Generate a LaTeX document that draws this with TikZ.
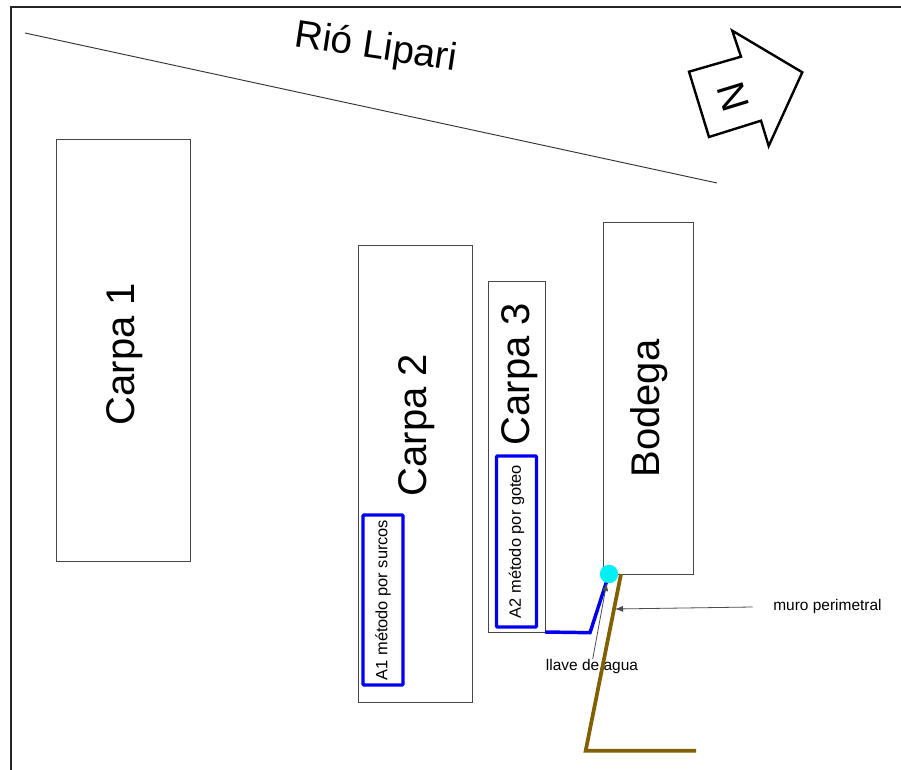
\documentclass[tikz,border=0pt]{standalone}
\usepackage{fontspec}
\setmainfont{Liberation Sans}
\usetikzlibrary{arrows.meta,positioning}
\definecolor{pipeBlue}{RGB}{0,0,240}
\definecolor{wallBrown}{RGB}{128,96,0}
\definecolor{valveCyan}{RGB}{0,240,245}
\definecolor{boxLine}{RGB}{70,70,70}
\tikzset{
    every node/.append style={align=center,inner sep=0pt,outer sep=0pt},
    box/.style={rectangle,draw=boxLine,line width=0.6pt},
    area/.style={rectangle,draw=pipeBlue,line width=2.4pt,rounded corners=0.6pt,rotate=90,
        minimum width=#1,minimum height=30pt,font=\fontsize{12.3pt}{14pt}\selectfont},
    big/.style={font=\fontsize{30pt}{34pt}\selectfont,rotate=90},
    note/.style={font=\fontsize{11.6pt}{14pt}\selectfont},
    arr/.style={-{Latex[length=6pt,width=4.5pt]},line width=0.6pt,draw=black!70},
    pipe/.style={draw=pipeBlue,line width=2.6pt},
    wall/.style={draw=wallBrown,line width=2.8pt}
}
\begin{document}
\begin{tikzpicture}[x=0.75pt,y=-0.75pt]
    \useasboundingbox (0,0) rectangle (901,770);
    \fill[white] (0,0) rectangle (901,770);
    \draw[line width=1.6pt,draw=black!85] (11,770) -- (11,7) -- (901,7);

    \coordinate (rioStart) at (25,33);
    \coordinate (rioEnd)   at (717,183);
    \draw[line width=0.7pt,draw=black!80] (rioStart) -- (rioEnd);
    \node[font=\fontsize{29pt}{33pt}\selectfont,rotate=-8.5] (rio) at (376,48.5) {Rió Lipari};

    \draw[line width=1.8pt,line join=miter] (689,71.7) -- (741,56.7) -- (732.3,30.7) -- (802.3,72.3)
        -- (768.7,146) -- (761,120.7) -- (709,137) -- cycle;
    \node[font=\fontsize{29pt}{32pt}\selectfont,rotate=-73] (north) at (733.5,96.5) {N};

    \node[box,minimum width=100.5pt,minimum height=316.5pt] (carpaA) at (123,350)     {};
    \node[box,minimum width=85.5pt,minimum height=342.75pt] (carpaB) at (415,473.5)   {};
    \node[box,minimum width=42.75pt,minimum height=263.25pt] (carpaC) at (516.5,456.5) {};
    \node[box,minimum width=67.5pt,minimum height=264pt]    (bodega) at (648,398)     {};

    \node[big] (carpaAtxt)  at (125,354) {Carpa 1};
    \node[big] (carpaBtxt)  at (417,425) {Carpa 2};
    \node[big] (carpaCtxt)  at (520,374) {Carpa 3};
    \node[big] (bodegaTxt)  at (649,408.5) {Bodega};

    \node[area=127.5pt] (surcos) at (383,600)     {A1 método por surcos};
    \node[area=128.25pt] (goteo) at (516.5,541.5) {A2 método por goteo};

    \node[note] (llaveTxt) at (592,667) {llave de agua};
    \node[note] (muroTxt)  at (827.5,606.5) {muro perimetral};

    \coordinate (wallTop)  at (621,574);
    \coordinate (wallBend) at (585.7,750.7);
    \coordinate (wallEnd)  at (696,750.7);
    \coordinate (wallMark) at (615,609);
    \coordinate (pipeBend) at (590,632.7);
    \coordinate (muroFrom) at (752.7,607);
    \coordinate (llaveFrom) at (592.7,659);

    \draw[wall] (wallTop) -- (wallBend) -- (wallEnd);
    \draw[pipe] (carpaC.south east) -- (pipeBend) -- (609,574);
    \node[circle,fill=valveCyan,minimum size=13.8pt] (valve) at (609,574) {};
    \draw[arr] (llaveFrom) -- (606.7,583);
    \draw[arr] (muroFrom) -- (wallMark);
\end{tikzpicture}
\end{document}
